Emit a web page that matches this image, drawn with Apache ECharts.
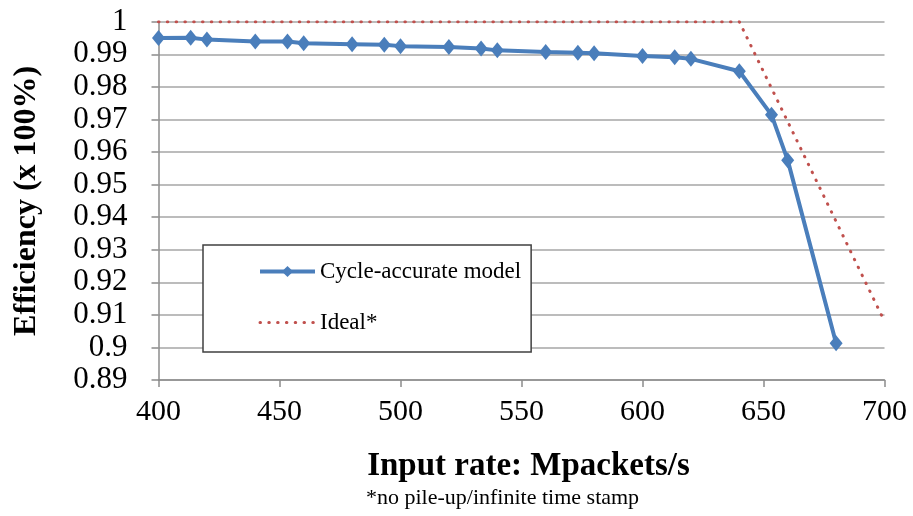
<!DOCTYPE html>
<html>
<head>
<meta charset="utf-8">
<script src="https://cdn.jsdelivr.net/npm/echarts@6/dist/echarts.min.js"></script>
<style>
  html, body { margin: 0; padding: 0; background: #fff; }
  #chart { width: 913px; height: 516px; }
</style>
</head>
<body>
<div id="chart"></div>
<script>
// Input rate (Mpackets/s) for the simulated runs
const rates = [400, 413.3, 420, 440, 453.3, 460, 480, 493.3, 500, 520, 533.3, 540,
               560, 573.3, 580, 600, 613.3, 620, 640, 653.3, 660, 680];
// Efficiency of the cycle-accurate model at each rate
const efficiency = [0.995, 0.9951, 0.9945, 0.9939, 0.9939, 0.9934, 0.9931, 0.9929, 0.9925, 0.9922, 0.9918, 0.9912,
                    0.9907, 0.9905, 0.9903, 0.9895, 0.9891, 0.9886, 0.9848, 0.9714, 0.9575, 0.9013];
// Ideal curve (no pile-up / infinite time stamp)
const idealRates = [400, 640, 700];
const idealEfficiency = [1, 1, 0.908];

const seriesNames = ['Cycle-accurate model', 'Ideal*'];
const xTitle = 'Input rate: Mpackets/s';
const yTitle = 'Efficiency (x 100%)';
const footnote = '*no pile-up/infinite time stamp';

const serif = '"Liberation Serif", "DejaVu Serif", serif';
const blue = '#4a7ebb';
const red = '#c0504d';
const chart = echarts.init(document.getElementById('chart'));

chart.setOption({
  animation: false,
  backgroundColor: '#ffffff',
  grid: { left: 158.5, right: 28.5, top: 21.7, bottom: 136 },
  xAxis: {
    type: 'value',
    min: 400, max: 700, interval: 50,
    name: xTitle,
    nameLocation: 'middle',
    nameGap: 70,
    nameTextStyle: { fontFamily: serif, fontSize: 33, fontWeight: 'bold', color: '#000', padding: [0, 0, 0, 14] },
    axisLine: { show: true, lineStyle: { color: '#8c8c8c', width: 1.5 } },
    axisTick: { show: true, length: 7, lineStyle: { color: '#8c8c8c', width: 1.5 } },
    axisLabel: { margin: 17, fontFamily: serif, fontSize: 30, color: '#000' },
    splitLine: { show: false }
  },
  yAxis: {
    type: 'value',
    min: 0.89, max: 1, interval: 0.01,
    name: yTitle,
    nameLocation: 'middle',
    nameGap: 116,
    nameRotate: 90,
    nameTextStyle: { fontFamily: serif, fontSize: 32, fontWeight: 'bold', color: '#000' },
    axisLine: { show: true, lineStyle: { color: '#8c8c8c', width: 1.5 } },
    axisTick: { show: true, length: 7, lineStyle: { color: '#8c8c8c', width: 1.5 } },
    axisLabel: {
      margin: 31, fontFamily: serif, fontSize: 31, color: '#000',
      formatter: v => String(Math.round(v * 100) / 100)
    },
    splitLine: { show: true, lineStyle: { color: '#a6a6a6', width: 1.5 } }
  },
  legend: {
    orient: 'vertical',
    left: 203, top: 245,
    backgroundColor: '#ffffff',
    borderColor: '#404040',
    borderWidth: 1.5,
    padding: [15, 10, 18, 55],
    itemGap: 28,
    itemWidth: 55,
    itemHeight: 14,
    textStyle: { fontFamily: serif, fontSize: 23, color: '#000' },
    data: [
      { name: seriesNames[0], lineStyle: { width: 4 } },
      { name: seriesNames[1], itemStyle: { opacity: 0 }, lineStyle: { width: 3 } }
    ]
  },
  graphic: [{
    type: 'text',
    left: 366,
    top: 487,
    style: { text: footnote, font: '22px ' + serif, fill: '#000' }
  }],
  series: [
    {
      name: seriesNames[0],
      type: 'line',
      data: rates.map((r, i) => [r, efficiency[i]]),
      symbol: 'diamond',
      symbolSize: [13, 16],
      itemStyle: { color: blue },
      lineStyle: { color: blue, width: 4 },
      z: 3
    },
    {
      name: seriesNames[1],
      type: 'line',
      data: idealRates.map((r, i) => [r, idealEfficiency[i]]),
      symbol: 'none',
      itemStyle: { color: red },
      lineStyle: { color: red, width: 3, type: [0.5, 8.3], cap: 'round' },
      z: 2
    }
  ]
});
</script>
</body>
</html>
